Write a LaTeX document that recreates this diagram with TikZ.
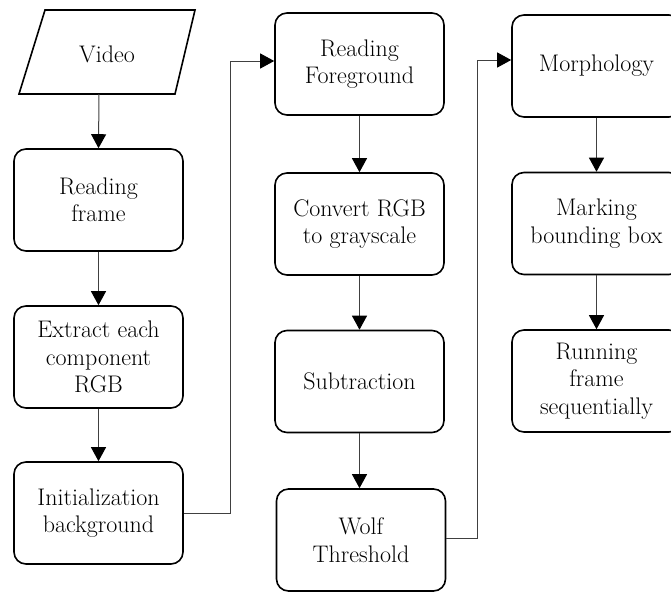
\documentclass[tikz,border=0pt]{standalone}
\usetikzlibrary{arrows.meta}
\begin{document}
\begin{tikzpicture}[x=1pt,y=-1pt,
  txt/.style={font=\fontsize{24}{27.5}\selectfont},
  stepbox/.style={txt, draw=black, line width=1.6pt, rounded corners=12pt, minimum width=169pt, minimum height=102pt, align=center, inner sep=2pt},
  conn/.style={draw=black!75, line width=1pt, -{Triangle[width=15pt,length=14pt,color=black]}}]
\useasboundingbox (0,0) rectangle (671,592);
% Video parallelogram
\coordinate (v1) at (45,10);
\coordinate (v2) at (195,10);
\coordinate (v3) at (175,94);
\coordinate (v4) at (19,94);
\draw[line width=1.6pt, line join=miter] (v1) -- (v2) -- (v3) -- (v4) -- cycle;
\node[txt] (video) at (107,54) {Video};
\coordinate (vb) at (99,94);
% left column
\node[stepbox] (rf) at (98.5,200) {Reading\\frame};
\node[stepbox] (ex) at (98.5,357) {Extract each\\component\\RGB};
\node[stepbox] (init) at (98.5,513) {Initialization\\background};
% middle column
\node[stepbox] (rfg) at (359.5,64) {Reading\\Foreground};
\node[stepbox] (conv) at (359.5,224) {Convert RGB\\to grayscale};
\node[stepbox] (sub) at (359.5,381.5) {Subtraction};
\node[stepbox] (wolf) at (361,540) {Wolf\\Threshold};
% right column
\node[stepbox] (morph) at (596.5,66) {Morphology};
\node[stepbox] (mark) at (596.5,223.5) {Marking\\bounding box};
\node[stepbox] (run) at (596.5,381) {Running\\frame\\sequentially};
% connectors
\draw[conn] (vb) -- (rf.north);
\draw[conn] (rf) -- (ex);
\draw[conn] (ex) -- (init);
\draw[conn] (init.east) -- ++(47,0) |- ([yshift=3pt]rfg.west);
\draw[conn] (rfg) -- (conv);
\draw[conn] (conv) -- (sub);
\draw[conn] (sub) -- (sub |- wolf.north);
\draw[conn] ([yshift=2pt]wolf.east) -- ++(31,0) |- ([yshift=6pt]morph.west);
\draw[conn] (morph) -- (mark);
\draw[conn] (mark) -- (run);
\end{tikzpicture}
\end{document}
